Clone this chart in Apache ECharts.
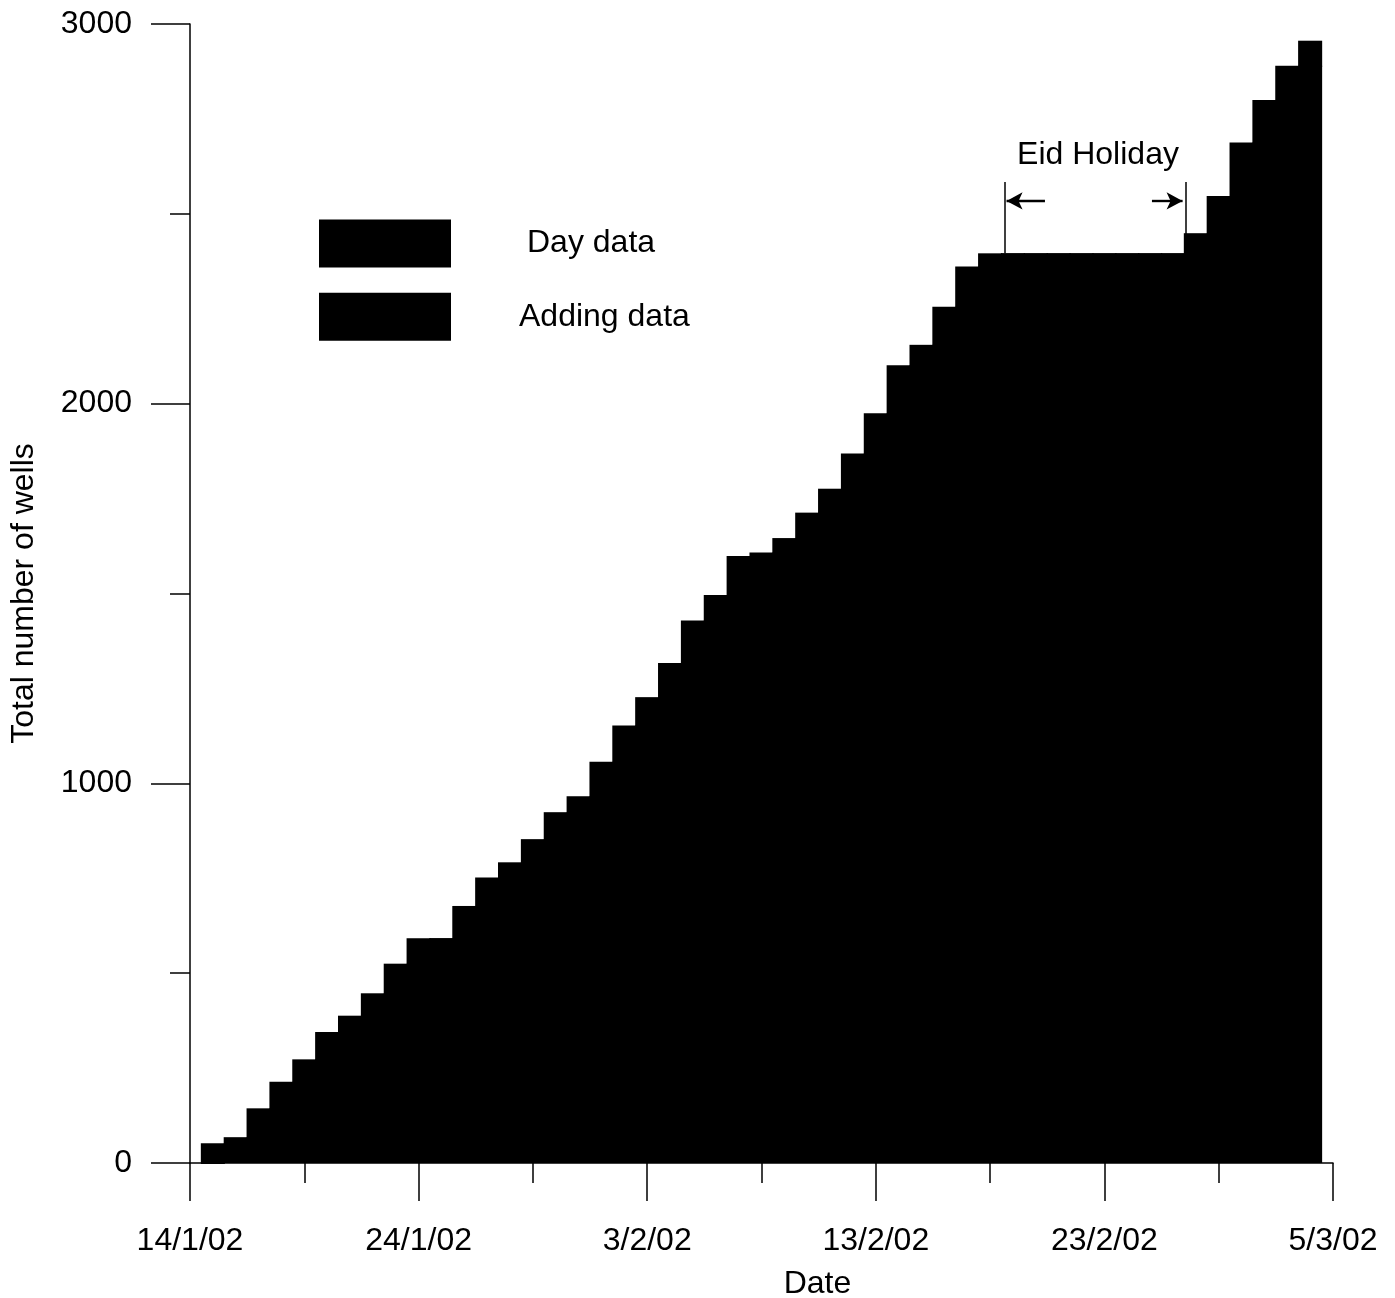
<html>

<head>
    <title>Total number of wells</title>
    <script src="https://cdn.jsdelivr.net/npm/echarts@6.0.0/dist/echarts.min.js"></script>
</head>

<body style="margin:0">
    <div id="main" style="width:1395px;height:1298px;"></div>
    <script type="text/javascript">
        // day index counted from 14/1/02 (0) to 5/3/02 (50)
        var days = [];
        for (var d = 1; d <= 49; d++) days.push(d);
        var tickLabels = ["14/1/02", "24/1/02", "3/2/02", "13/2/02", "23/2/02", "5/3/02"];
        // cumulative number of wells at the end of each day
        var totals = [52, 68, 144, 214, 273, 345, 388, 447, 525, 592,
            592, 677, 752, 792, 853, 924, 966, 1057, 1152, 1227,
            1317, 1429, 1496, 1599, 1608, 1646, 1713, 1776, 1869, 1975,
            2101, 2155, 2255, 2361, 2396, 2396, 2396, 2396, 2396, 2396,
            2396, 2396, 2396, 2449, 2547, 2688, 2800, 2890, 2956];

        // "Adding data" = total before the day, "Day data" = wells added that day
        var adding = [], dayData = [];
        for (var i = 0; i < totals.length; i++) {
            var prev = i > 0 ? totals[i - 1] : 0;
            adding.push([days[i], prev]);
            dayData.push([days[i], prev, totals[i]]);
        }

        var font = "'Liberation Sans', Arial, sans-serif";
        var fs = 32;
        var myChart = echarts.init(document.getElementById('main'));

        function renderDay(params, api) {
            var x = api.value(0);
            var top = api.coord([x, api.value(2)]);
            var bottom = api.coord([x, api.value(1)]);
            var w = api.size([1, 0])[0] + 1.2;
            return {
                type: "rect",
                shape: { x: top[0] - w / 2, y: top[1], width: w, height: bottom[1] - top[1] + 1 },
                style: { fill: "#000" }
            };
        }

        var option = {
            animation: false,
            textStyle: { fontFamily: font, color: "#000" },
            grid: { left: 190, right: 62, top: 24, bottom: 135, containLabel: false, outerBoundsMode: "none" },
            legend: {
                left: 319,
                top: 216,
                padding: 0,
                orient: "vertical",
                itemWidth: 132,
                itemHeight: 48,
                itemGap: 18,
                icon: "rect",
                textStyle: { fontSize: fs, color: "#000", fontFamily: font },
                data: [
                    { name: "Day data", textStyle: { padding: [0, 0, 0, 71] } },
                    { name: "Adding data", textStyle: { padding: [0, 0, 0, 63] } }
                ]
            },
            xAxis: {
                type: "value",
                min: 0,
                max: 50,
                interval: 10,
                name: "Date",
                nameLocation: "middle",
                nameGap: 94,
                nameMoveOverlap: false,
                nameTextStyle: { fontSize: fs, color: "#000", padding: [0, 0, 0, 112] },
                axisLine: { lineStyle: { color: "#000", width: 1.5 } },
                axisTick: { length: 38, lineStyle: { color: "#000", width: 1.5 } },
                minorTick: { show: true, splitNumber: 2, length: 20, lineStyle: { color: "#000", width: 1.5 } },
                splitLine: { show: false },
                axisLabel: {
                    margin: 51,
                    fontSize: fs,
                    color: "#000",
                    formatter: function (v) { return tickLabels[Math.round(v / 10)]; }
                }
            },
            yAxis: {
                type: "value",
                min: 0,
                max: 3000,
                interval: 1000,
                name: "Total number of wells",
                nameLocation: "middle",
                nameGap: 138,
                nameMoveOverlap: false,
                nameTextStyle: { fontSize: fs, color: "#000" },
                axisLine: { show: true, lineStyle: { color: "#000", width: 1.5 } },
                axisTick: { show: true, length: 39, lineStyle: { color: "#000", width: 1.5 } },
                minorTick: { show: true, splitNumber: 2, length: 20, lineStyle: { color: "#000", width: 1.5 } },
                splitLine: { show: false },
                axisLabel: {
                    margin: 58,
                    fontSize: fs,
                    color: "#000",
                    padding: [5, 0, 0, 0],
                    formatter: function (v) { return String(v); }
                }
            },
            series: [
                {
                    name: "Adding data",
                    type: "bar",
                    barWidth: 24,
                    itemStyle: { color: "#000" },
                    data: adding,
                    markLine: {
                        silent: true,
                        symbol: ["none", "none"],
                        symbolSize: [13, 16],
                        label: { show: false },
                        lineStyle: { color: "#000", type: "solid", width: 1.5 },
                        data: [
                            [{ coord: [35.65, 2396] }, { coord: [35.65, 2584] }],
                            [{ coord: [43.57, 2396] }, { coord: [43.57, 2584] }],
                            [{ coord: [35.72, 2534], symbol: "arrow", lineStyle: { width: 2.4 } },
                             { coord: [37.4, 2534], symbol: "none" }],
                            [{ coord: [42.08, 2534], symbol: "none", lineStyle: { width: 2.4 } },
                             { coord: [43.42, 2534], symbol: "arrow" }]
                        ]
                    },
                    markPoint: {
                        silent: true,
                        symbol: "rect",
                        symbolSize: 0,
                        label: {
                            show: true,
                            position: "inside",
                            formatter: "Eid Holiday",
                            fontSize: fs,
                            color: "#000",
                            fontFamily: font
                        },
                        data: [{ coord: [39.72, 2655] }]
                    }
                },
                {
                    name: "Day data",
                    type: "custom",
                    renderItem: renderDay,
                    itemStyle: { color: "#000" },
                    encode: { x: 0, y: [1, 2] },
                    data: dayData
                }
            ]
        };
        myChart.setOption(option);
    </script>
</body>

</html>
